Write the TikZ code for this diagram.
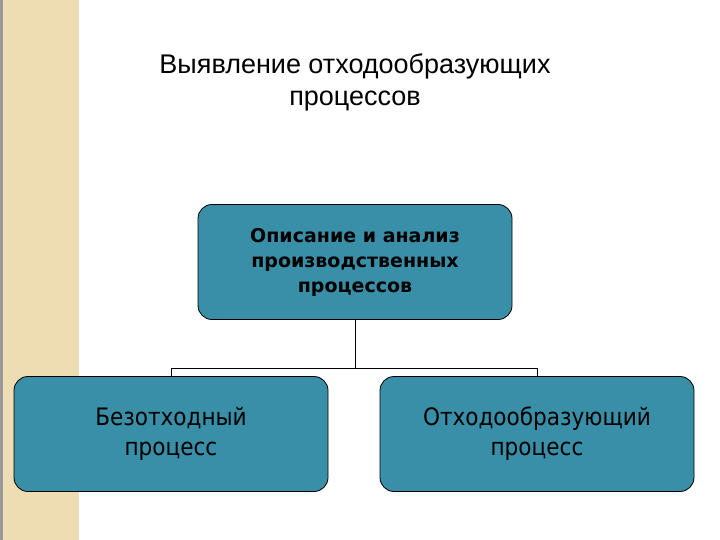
\documentclass[tikz,border=0pt]{standalone}
\usepackage{fontspec}
\setmainfont{Liberation Sans}
\newfontfamily\tah{DejaVu Sans}
\newfontfamily\tahc{DejaVu Sans Condensed}
\definecolor{boxc}{HTML}{3A8FA8}
\definecolor{stripe}{HTML}{EEDDB2}
\tikzset{pbox/.style={draw=black,line width=0.8pt,fill=boxc,rounded corners=14pt,minimum width=314pt,minimum height=115pt,align=center,inner sep=0pt},
conn/.style={draw=black,line width=1pt}}
\begin{document}
\begin{tikzpicture}[x=1pt,y=-1pt]
\useasboundingbox (0,0) rectangle (720,540);
\fill[stripe] (0,0) rectangle (79,540);
\fill[black!40] (0,0) rectangle (3,540);
\node[font=\fontsize{27}{32}\selectfont,align=center] (title) at (355,82) {Выявление отходообразующих\\процессов};
\node[pbox,font=\tah\bfseries\fontsize{19}{25}\selectfont] (top) at (355,262) {Описание и анализ\\производственных\\процессов};
\node[pbox,font=\tahc\fontsize{24}{30}\selectfont] (l) at (171,434) {Безотходный\\процесс};
\node[pbox,font=\tahc\fontsize{24}{30}\selectfont] (r) at (537,434) {Отходообразующий\\процесс};
\coordinate (j) at (355,368);
\draw[conn] (top.south) -- (j);
\draw[conn] (l.north) -- (l.north|-j) -- (r.north|-j) -- (r.north);
\end{tikzpicture}
\end{document}
